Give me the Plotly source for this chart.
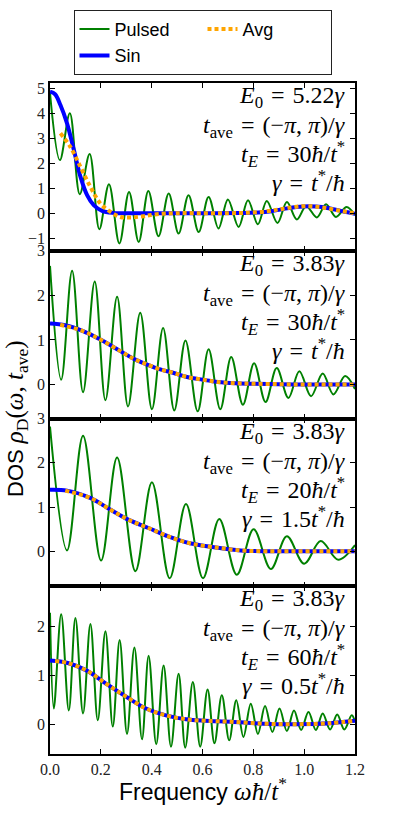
import plotly.graph_objects as go
from plotly.subplots import make_subplots

# panel 1 : E0 = 5.22, tE = 30
pulsed_x_1 = [0.0, 0.039, 0.078, 0.117, 0.156, 0.194, 0.232, 0.273, 0.311, 0.349, 0.387, 0.427,
              0.467, 0.506, 0.545, 0.585, 0.624, 0.663, 0.700, 0.742, 0.779, 0.818, 0.853, 0.895,
              0.932, 0.971, 1.008, 1.050, 1.086, 1.125, 1.167, 1.2]
pulsed_y_1 = [4.8, 2.12, 3.99, 0.76, 2.36, -0.64, 1.16, -1.21, 0.85, -1.15, 0.89, -0.92,
              0.79, -0.81, 0.72, -0.75, 0.65, -0.61, 0.55, -0.55, 0.52, -0.44, 0.49, -0.39,
              0.45, -0.25, 0.28, -0.17, 0.36, -0.15, 0.25, -0.08]
sin_x_1 = [0.0, 0.02, 0.041, 0.067, 0.094, 0.12, 0.146, 0.172, 0.205, 0.25, 0.35, 0.5, 0.65,
           0.75, 0.82, 0.87, 0.92, 0.97, 1.02, 1.07, 1.12, 1.16, 1.2]
sin_y_1 = [4.85, 4.75, 4.32, 3.59, 2.52, 1.45, 0.72, 0.32, 0.09, 0.01, 0.0, 0.0, 0.0,
           0.01, 0.03, 0.08, 0.17, 0.25, 0.28, 0.25, 0.15, 0.06, -0.02]
avg_x_1 = [0.041, 0.08, 0.12, 0.159, 0.198, 0.238, 0.277, 0.316, 0.368, 0.42, 0.5, 0.6, 0.7,
           0.78, 0.85, 0.9, 0.95, 1.0, 1.05, 1.1, 1.15, 1.2]
avg_y_1 = [3.19, 2.65, 1.85, 1.05, 0.39, 0.05, -0.15, -0.17, -0.12, -0.04, 0.0, 0.0, 0.0,
           0.02, 0.07, 0.15, 0.23, 0.28, 0.26, 0.18, 0.08, 0.0]

# panel 2 : E0 = 3.83, tE = 30
pulsed_x_2 = [0.0, 0.044, 0.087, 0.130, 0.176, 0.218, 0.264, 0.307, 0.355, 0.401, 0.445, 0.489,
              0.533, 0.581, 0.624, 0.670, 0.713, 0.759, 0.803, 0.848, 0.892, 0.938, 0.981, 1.027,
              1.073, 1.115, 1.161, 1.2]
pulsed_y_2 = [2.66, 0.11, 2.55, -0.17, 2.31, -0.35, 1.97, -0.49, 1.61, -0.55, 1.27, -0.58,
              0.99, -0.60, 0.79, -0.55, 0.62, -0.45, 0.48, -0.39, 0.37, -0.30, 0.30, -0.26,
              0.25, -0.22, 0.19, -0.10]
sin_x_2 = [0.0, 0.06, 0.13, 0.198, 0.277, 0.329, 0.382, 0.434, 0.487, 0.539, 0.6, 0.66, 0.73,
           0.79, 0.9, 1.0, 1.1, 1.2]
sin_y_2 = [1.37, 1.33, 1.20, 1.01, 0.75, 0.58, 0.45, 0.34, 0.26, 0.17, 0.11, 0.06, 0.03,
           0.02, 0.01, 0.0, 0.0, 0.0]
avg_x_2 = [0.04, 0.13, 0.198, 0.277, 0.329, 0.382, 0.434, 0.487, 0.539, 0.6, 0.66, 0.73,
           0.79, 0.9, 1.0, 1.1, 1.2]
avg_y_2 = [1.34, 1.20, 1.01, 0.75, 0.58, 0.45, 0.34, 0.26, 0.17, 0.11, 0.06, 0.03,
           0.02, 0.01, 0.0, 0.0, 0.0]

# panel 3 : E0 = 3.83, tE = 20
pulsed_x_3 = [0.0, 0.067, 0.130, 0.201, 0.264, 0.336, 0.401, 0.471, 0.535, 0.602, 0.666, 0.735,
              0.801, 0.869, 0.932, 1.000, 1.065, 1.134, 1.2]
pulsed_y_3 = [2.82, 0.02, 2.61, -0.21, 2.12, -0.45, 1.56, -0.61, 1.07, -0.61, 0.73, -0.53,
              0.50, -0.40, 0.34, -0.28, 0.23, -0.19, 0.14]
sin_x_3 = [0.0, 0.067, 0.16, 0.235, 0.31, 0.39, 0.468, 0.55, 0.66, 0.75, 0.85, 1.0, 1.1, 1.2]
sin_y_3 = [1.39, 1.37, 1.20, 0.95, 0.71, 0.52, 0.33, 0.18, 0.08, 0.02, 0.0, 0.0, 0.0, 0.0]
avg_x_3 = [0.06, 0.16, 0.235, 0.31, 0.39, 0.468, 0.55, 0.66, 0.75, 0.85, 1.0, 1.1, 1.2]
avg_y_3 = [1.37, 1.20, 0.95, 0.71, 0.52, 0.33, 0.18, 0.08, 0.02, 0.0, 0.0, 0.0, 0.0]

# panel 4 : E0 = 3.83, tE = 60
pulsed_x_4 = [0.0, 0.015, 0.044, 0.074, 0.100, 0.130, 0.159, 0.188, 0.218, 0.247, 0.274, 0.303,
              0.332, 0.362, 0.388, 0.418, 0.447, 0.476, 0.506, 0.532, 0.562, 0.591, 0.620, 0.647,
              0.676, 0.705, 0.733, 0.761, 0.790, 0.818, 0.846, 0.875, 0.903, 0.932, 0.960, 0.988,
              1.017, 1.046, 1.073, 1.102, 1.130, 1.158, 1.187, 1.2]
pulsed_y_4 = [2.28, 0.32, 2.25, 0.28, 2.17, 0.22, 2.05, 0.08, 1.90, -0.05, 1.72, -0.20,
              1.57, -0.31, 1.40, -0.41, 1.20, -0.46, 1.03, -0.48, 0.86, -0.46, 0.71, -0.39,
              0.59, -0.33, 0.49, -0.26, 0.42, -0.20, 0.37, -0.16, 0.32, -0.14, 0.28, -0.12,
              0.25, -0.12, 0.22, -0.11, 0.20, -0.11, 0.18, 0.05]
sin_x_4 = [0.0, 0.07, 0.143, 0.22, 0.3, 0.378, 0.456, 0.535, 0.61, 0.71, 0.84, 0.97, 1.1, 1.2]
sin_y_4 = [1.30, 1.25, 1.10, 0.83, 0.56, 0.32, 0.18, 0.10, 0.07, 0.05, 0.01, 0.0, 0.02, 0.07]
avg_x_4 = [0.02, 0.07, 0.143, 0.22, 0.3, 0.378, 0.456, 0.535, 0.61, 0.71, 0.84, 0.97, 1.1, 1.2]
avg_y_4 = [1.29, 1.25, 1.10, 0.83, 0.56, 0.32, 0.18, 0.10, 0.07, 0.05, 0.01, 0.0, 0.02, 0.07]

y_ranges = [[-1.5, 5.2], [-0.76, 3.0], [-0.79, 3.0], [-0.61, 2.82]]
y_ticks = [[-1, 0, 1, 2, 3, 4, 5], [0, 1, 2, 3], [0, 1, 2, 3], [0, 1, 2]]
x_ticks = [0.0, 0.2, 0.4, 0.6, 0.8, 1.0, 1.2]

e0_labels = ["5.22", "3.83", "3.83", "3.83"]
te_labels = ["30", "30", "20", "60"]
gamma_labels = ["", "", "1.5", "0.5"]

panels = [
    (pulsed_x_1, pulsed_y_1, sin_x_1, sin_y_1, avg_x_1, avg_y_1),
    (pulsed_x_2, pulsed_y_2, sin_x_2, sin_y_2, avg_x_2, avg_y_2),
    (pulsed_x_3, pulsed_y_3, sin_x_3, sin_y_3, avg_x_3, avg_y_3),
    (pulsed_x_4, pulsed_y_4, sin_x_4, sin_y_4, avg_x_4, avg_y_4),
]

SERIF = "Liberation Serif"
SANS = "Liberation Sans"
EQ = "\u2004=\u2004"

fig = make_subplots(rows=4, cols=1, shared_xaxes=True, vertical_spacing=0)

for i, (px, py, sx, sy, ax, ay) in enumerate(panels):
    row = i + 1
    first = i == 0
    fig.add_trace(go.Scatter(x=px, y=py, mode="lines", name="Pulsed", showlegend=first,
                             legendrank=1,
                             line=dict(color="#008000", width=2, shape="spline", smoothing=1.0)),
                  row=row, col=1)
    fig.add_trace(go.Scatter(x=sx, y=sy, mode="lines", name="Sin", showlegend=first,
                             legendrank=3,
                             line=dict(color="#0000ff", width=4, shape="spline")),
                  row=row, col=1)
    fig.add_trace(go.Scatter(x=ax, y=ay, mode="lines", name="Avg", showlegend=first,
                             legendrank=2,
                             line=dict(color="#ffa500", width=4, dash="4px,3px", shape="spline")),
                  row=row, col=1)

    fig.update_yaxes(range=y_ranges[i], tickvals=y_ticks[i], row=row, col=1)

    # parameter text, one line per annotation, right aligned
    gam = gamma_labels[i]
    lines = [
        "<i>E</i><sub>0</sub>" + EQ + "%s<i>γ</i>" % e0_labels[i],
        "<i>t</i><sub>ave</sub>" + EQ + "(−<i>π</i>, <i>π</i>)/<i>γ</i>",
        "<i>t<sub>E</sub></i>" + EQ + "%s<i>ħ</i>/<i>t</i><sup>*</sup>" % te_labels[i],
        "<i>γ</i>" + EQ + "%s<i>t</i><sup>*</sup>/<i>ħ</i>" % gam,
    ]
    offsets = [14, 44, 71, 98]
    yref = "y domain" if first else "y%d domain" % row
    xref = "x domain" if first else "x%d domain" % row
    for txt, off in zip(lines, offsets):
        fig.add_annotation(text=txt, xref=xref, yref=yref, x=0.975, y=1 - off / 167.75,
                           xanchor="right", yanchor="middle", showarrow=False,
                           font=dict(family=SERIF, size=24, color="black"))

fig.update_xaxes(range=[0, 1.2], tickvals=x_ticks, tickformat=".1f",
                 showline=True, linecolor="black", linewidth=1.5, mirror="allticks",
                 ticks="inside", ticklen=5, tickcolor="black", showgrid=False, zeroline=False,
                 tickfont=dict(family=SERIF, size=16, color="#222"))
fig.update_yaxes(showline=True, linecolor="black", linewidth=1.5, mirror="allticks",
                 ticks="inside", ticklen=5, tickcolor="black", showgrid=False, zeroline=False,
                 tickfont=dict(family=SERIF, size=16, color="#222"))

math = "<span style='font-family:%s;font-size:25px'>" % SERIF
fig.add_annotation(text="DOS " + math + "<i>ρ</i><sub>D</sub>(<i>ω</i>, <i>t</i><sub>ave</sub>)</span>",
                   xref="paper", yref="paper", x=-0.11, y=0.5, textangle=-90,
                   xanchor="center", yanchor="middle", showarrow=False,
                   font=dict(family=SANS, size=22, color="black"))
fig.add_annotation(text="Frequency " + math + "<i>ωħ</i>/<i>t</i><sup>*</sup></span>",
                   xref="paper", yref="paper", x=0.5, y=-0.052,
                   xanchor="center", yanchor="middle", showarrow=False,
                   font=dict(family=SANS, size=23, color="black"))

fig.update_layout(
    width=395, height=838,
    margin=dict(l=49.5, r=40, t=83, b=84, autoexpand=False),
    plot_bgcolor="white", paper_bgcolor="white",
    legend=dict(orientation="h", x=0.5, xanchor="center", y=1.109, yanchor="top",
                bordercolor="#222", borderwidth=1, entrywidth=83,
                traceorder="normal",
                font=dict(family=SANS, size=18, color="black")),
)

fig.write_html("out.html", config={"displayModeBar": False},
               post_script="document.body.style.margin='0';")
